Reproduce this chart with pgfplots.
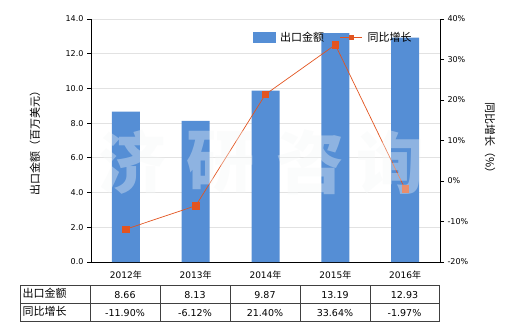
\documentclass[border=0pt]{standalone}
\usepackage{fontspec}
\setmainfont{DejaVu Sans}
\newfontfamily\cjk{Noto Sans CJK SC}
\usepackage{pgfplots}
\pgfplotsset{compat=1.18}
\definecolor{barblue}{RGB}{85,142,213}
\definecolor{lineor}{RGB}{226,84,32}
\definecolor{gridc}{RGB}{226,226,226}
\definecolor{tblc}{RGB}{64,64,64}
\definecolor{wmc}{RGB}{245,247,247}
\begin{document}
\begin{tikzpicture}[x=1pt,y=1pt,font=\fontsize{8}{9.5}\selectfont]
\path (0,0) rectangle (520,330);
\begin{axis}[
  at={(91pt,68pt)}, anchor=south west,
  width=349pt, height=243pt, scale only axis,
  xmin=-0.5, xmax=4.5, ymin=0, ymax=14,
  axis x line*=bottom, axis y line*=left,
  axis line style={-, black, line width=0.8pt},
  xtick={0,1,2,3,4},
  xticklabels={2012{\cjk 年},2013{\cjk 年},2014{\cjk 年},2015{\cjk 年},2016{\cjk 年}},
  xticklabel style={font=\fontsize{9}{10}\selectfont, yshift=-1pt},
  major x tick style={draw=none},
  ytick={0,2,...,14},
  yticklabel style={/pgf/number format/.cd, fixed, fixed zerofill, precision=1},
  /pgf/number format/assume math mode=true,
  tick align=outside, major tick length=4pt,
  ytick style={black, line width=0.8pt},
  ymajorgrids, grid style={gridc, line width=0.8pt},
  ylabel={\cjk 出口金额（百万美元）},
  every axis y label/.style={at={(rel axis cs:0,0.5)}, xshift=-56pt, rotate=90, anchor=center, font=\fontsize{11}{12}\selectfont},
]
\addplot[ybar, bar width=28pt, fill=barblue, draw=none] coordinates {
  (0,8.66) (1,8.13) (2,9.87) (3,13.19) (4,12.93)};
\end{axis}
\begin{axis}[
  at={(91pt,68pt)}, anchor=south west,
  width=349pt, height=243pt, scale only axis,
  xmin=-0.5, xmax=4.5, ymin=-20, ymax=40,
  axis x line=none, axis y line*=right,
  axis line style={-, black, line width=0.8pt},
  ytick={-20,-10,...,40},
  yticklabel={\pgfmathprintnumber{\tick}\%},
  /pgf/number format/assume math mode=true,
  tick align=outside, major tick length=4pt,
  ytick style={black, line width=0.8pt},
  ylabel={\cjk 同比增长（\%）},
  every axis y label/.style={at={(rel axis cs:1,0.5)}, xshift=50pt, rotate=-90, anchor=center, font=\fontsize{11}{12}\selectfont},
]
\addplot[lineor, line width=0.7pt, mark=square*, mark size=3.2pt]
  coordinates {(0,-11.90) (1,-6.12) (2,21.40) (3,33.64) (4,-1.97)};
\end{axis}
% legend
\fill[barblue] (253,287) rectangle (276,298);
\node[anchor=west, inner sep=0pt, font=\cjk\fontsize{11}{12}\selectfont] at (280,292.5) {出口金额};
\draw[lineor, line width=1.6pt] (340,292.5)--(362,292.5);
\fill[lineor] (348.5,290) rectangle (353.5,295);
\node[anchor=west, inner sep=0pt, font=\cjk\fontsize{11}{12}\selectfont] at (367.5,292.5) {同比增长};
% watermark
\begin{scope}[opacity=0.36, text=wmc, font=\cjk\fontsize{68}{68}\selectfont\bfseries]
\node at (132,168) {济};
\node at (220,168) {研};
\node at (310,168) {咨};
\node at (390,168) {询};
\end{scope}
% data table
\draw[tblc, line width=0.8pt] (20,44.3) rectangle (439,9);
\draw[tblc, line width=0.8pt] (20,27)--(439,27);
\foreach \x in {90,160,230,300,370} \draw[tblc, line width=0.8pt] (\x,44.3)--(\x,9);
\node[anchor=west, font=\cjk\fontsize{11}{12}\selectfont] at (19,37) {出口金额};
\node[anchor=west, font=\cjk\fontsize{11}{12}\selectfont] at (19,19) {同比增长};
\begin{scope}[font=\fontsize{9.5}{11}\selectfont]
\foreach \x/\v in {125/8.66,195/8.13,265/9.87,335/13.19,404.5/12.93}
  \node at (\x,34.5) {\v};
\foreach \x/\v in {125/-11.90\%,195/-6.12\%,265/21.40\%,335/33.64\%,404.5/-1.97\%}
  \node at (\x,16.5) {\v};
\end{scope}
\end{tikzpicture}
\end{document}
